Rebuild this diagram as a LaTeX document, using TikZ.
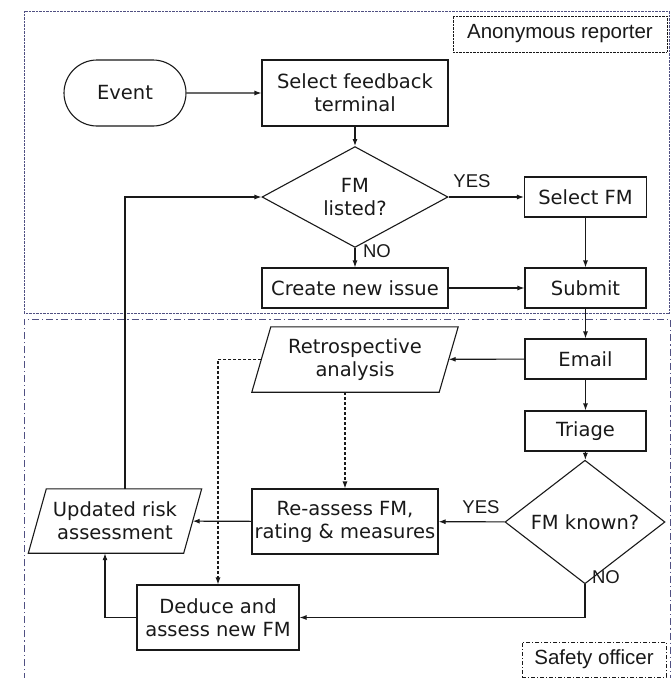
\documentclass[tikz,border=0pt]{standalone}
\usepackage{fontspec}
\setmainfont{DejaVu Sans}
\newfontfamily\labfont{Liberation Sans}
\usetikzlibrary{shapes.geometric,shapes.misc,arrows.meta,calc}
\definecolor{lanecol}{RGB}{80,80,130}
\definecolor{ink}{RGB}{25,25,25}
\begin{document}
\begin{tikzpicture}[x=1pt,y=-1pt,
  every node/.style={font=\fontsize{19.5}{23}\selectfont, text=ink, align=center, inner sep=0pt},
  proc/.style={draw=ink, line width=1.1pt, rectangle},
  term/.style={draw=ink, line width=1.1pt, rounded rectangle},
  dec/.style={draw=ink, line width=1.1pt, diamond},
  para/.style={draw=none, rectangle},
  paraline/.style={draw=ink, line width=1.1pt},
  conn/.style={draw=ink, line width=1.1pt, -{Latex[length=7pt,width=5pt]}},
  dconn/.style={conn, dash pattern=on 3pt off 2pt},
  lbl/.style={font=\labfont\fontsize{18.5}{20}\selectfont},
  lanelbl/.style={font=\labfont\fontsize{20.5}{22}\selectfont},
  toplane/.style={draw=lanecol, line width=0.9pt, dash pattern=on 0.7pt off 0.7pt},
  botlane/.style={draw=lanecol, line width=0.9pt, dash pattern=on 7pt off 3pt on 1.2pt off 3pt},
  botlbl/.style={draw=ink, line width=0.9pt, dash pattern=on 4pt off 2pt on 1pt off 2pt}
]
\useasboundingbox (0,0) rectangle (672,678);

% lanes
\draw[toplane] (24,11) rectangle (669,313);
\node[lanelbl, draw=ink, line width=0.9pt, dash pattern=on 0.7pt off 0.7pt, minimum width=214pt, minimum height=36pt] (lanea) at (560,34) {Anonymous reporter};
\draw[botlane] (24,680) -- (24,319) -- (670,319) -- (670,680);
\node[lanelbl, botlbl, minimum width=144pt, minimum height=35pt] (laneb) at (594,659.5) {Safety officer};

% nodes
\node[term, minimum width=122pt, minimum height=66pt] (ev) at (125,93) {Event};
\node[proc, minimum width=186pt, minimum height=66pt] (sft) at (355,93) {Select feedback\\terminal};
\node[dec, minimum width=186pt, minimum height=80pt] (fml) at (355,197) {FM\\listed?};
\node[proc, minimum width=122pt, minimum height=40pt] (sfm) at (585.5,197) {Select FM};
\node[proc, minimum width=186pt, minimum height=40pt] (cni) at (355,288) {Create new issue};
\node[proc, minimum width=121pt, minimum height=40pt] (sub) at (585.5,288) {Submit};
\node[proc, minimum width=121pt, minimum height=40pt] (em) at (585.5,359) {Email};
\node[para, minimum width=187pt, minimum height=65pt] (ret) at (355,359.5) {Retrospective\\analysis};
\node[proc, minimum width=121pt, minimum height=40pt] (tri) at (585.5,431) {Triage};
\node[dec, minimum width=160pt, minimum height=80pt] (fmk) at (585,522) {FM known?};
\node[proc, minimum width=186pt, minimum height=65pt] (rea) at (345,521.5) {Re-assess FM,\\rating \& measures};
\node[para, minimum width=155pt, minimum height=64pt] (upd) at (115,521) {Updated risk\\assessment};
\node[proc, minimum width=162pt, minimum height=65pt] (ded) at (218,617.5) {Deduce and\\assess new FM};

% parallelogram outlines
\draw[paraline] ($(ret.south west)+(-9.5,0)$) -- ($(ret.south east)+(-9.5,0)$) -- ($(ret.north east)+(9.5,0)$) -- ($(ret.north west)+(9.5,0)$) -- cycle;
\draw[paraline] ($(upd.south west)+(-9,0)$) -- ($(upd.south east)+(-9,0)$) -- ($(upd.north east)+(9,0)$) -- ($(upd.north west)+(9,0)$) -- cycle;

% connectors
\draw[conn] (ev) -- (sft);
\draw[conn] (sft) -- (fml);
\draw[conn] (fml) -- (sfm);
\draw[conn] (fml) -- (cni);
\draw[conn] (sfm) -- (sub);
\draw[conn] (cni) -- (sub);
\draw[conn] (sub) -- (em);
\draw[conn] (em) -- (ret);
\draw[conn] (em) -- (tri);
\draw[conn] (tri) -- (fmk);
\draw[conn] (fmk) -- (rea);
\draw[conn] (rea) -- (upd);
\draw[conn] (fmk.south) |- (ded.east);
\draw[conn] (ded.west) -| ([xshift=-10pt]upd.south);
\draw[conn] ([xshift=10pt]upd.north) |- (fml.west);
\draw[dconn] (ret.west) -- (ret.west -| ded.north) -- (ded.north);
\draw[dconn] (ret.south -| rea.north) -- (rea.north);

% labels
\node[lbl] (yes1) at (472,181) {YES};
\node[lbl] (no1) at (377,251) {NO};
\node[lbl] (yes2) at (481,507) {YES};
\node[lbl] (no2) at (606,577) {NO};
\end{tikzpicture}
\end{document}
